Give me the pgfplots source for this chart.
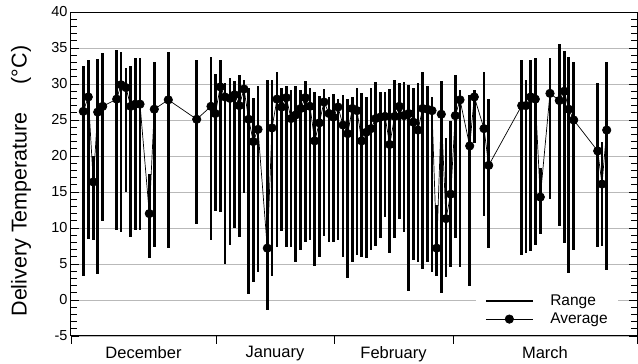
\documentclass[border=0pt]{standalone}
\usepackage{pgfplots}
\pgfplotsset{compat=1.18}
\usepackage{pgfplotstable}
\usepackage{fontspec}
\setmainfont{Liberation Sans}

\pgfplotstableread{
x lo hi avg
83.3 3.3 32.5 26.2
88.3 8.5 33.3 28.2
93.3 8.3 20.0 16.4
97.7 3.6 33.5 26.1
102.7 11.0 34.3 26.9
116.7 9.7 34.7 27.9
121.0 9.5 34.5 29.9
126.0 15.0 32.2 29.5
130.7 8.8 32.5 26.9
135.3 9.7 33.6 27.2
140.0 9.7 33.6 27.2
149.3 5.8 17.5 12.0
154.3 7.4 33.1 26.5
168.3 7.2 34.4 27.8
196.7 10.6 33.3 25.1
211.0 8.4 33.7 26.9
215.3 12.4 31.4 25.9
220.3 12.2 33.4 29.6
225.0 5.0 30.1 28.2
230.0 7.7 30.8 28.0
234.7 10.0 30.4 28.5
239.3 8.7 31.2 27.0
244.0 14.9 30.6 29.3
248.7 0.9 29.5 25.1
253.3 2.5 28.0 22.0
258.0 3.9 29.7 23.7
267.3 -1.4 30.6 7.2
272.0 3.3 30.6 23.9
277.0 7.4 31.7 27.9
281.7 9.6 29.4 26.8
286.3 7.4 29.7 28.1
291.0 7.4 29.2 25.2
295.7 5.3 29.7 25.7
300.7 6.9 29.1 26.6
305.3 8.0 30.4 28.1
310.0 8.4 29.4 26.9
314.7 4.7 28.9 22.1
319.3 6.0 28.3 24.6
324.0 8.9 29.3 27.5
329.0 8.0 28.2 25.9
333.3 8.1 28.6 25.4
338.0 8.3 27.9 26.8
343.0 6.0 28.5 24.3
347.7 3.0 27.9 23.1
352.3 5.3 28.2 26.6
357.0 6.3 29.5 26.3
361.7 6.0 28.8 22.1
366.3 5.8 28.2 23.3
371.0 6.9 29.5 23.8
375.7 7.5 30.3 25.2
380.3 8.6 28.9 25.4
385.0 11.5 28.9 25.5
389.7 6.5 29.3 21.6
394.7 8.6 30.5 25.5
399.3 11.3 30.2 26.9
404.0 9.5 30.3 25.6
408.7 1.3 29.9 25.9
413.3 5.6 29.5 24.7
418.0 5.3 30.2 23.6
422.7 4.3 31.7 26.6
427.3 5.3 29.7 26.5
432.0 3.9 28.2 26.3
436.7 3.3 13.2 7.2
441.3 1.0 30.4 25.8
446.0 3.2 22.5 11.3
450.7 4.6 24.8 14.7
455.3 8.6 31.2 25.6
460.0 4.6 29.2 27.8
469.7 2.0 28.5 21.4
474.3 21.8 29.2 28.2
484.0 11.7 31.7 23.8
488.7 7.2 27.9 18.7
521.7 6.3 33.3 27.0
526.0 6.5 30.6 27.0
530.7 6.8 33.3 28.2
535.3 7.7 33.6 27.9
540.3 9.1 18.4 14.3
550.0 14.0 33.6 28.7
559.3 10.3 35.6 27.7
564.3 7.9 34.6 29.0
568.7 3.7 33.8 26.5
573.7 7.0 33.1 25.0
597.7 7.3 30.1 20.7
602.0 7.5 22.0 16.1
606.7 4.2 33.1 23.6
}\tempdata

\begin{document}
\begin{tikzpicture}
\begin{axis}[
  at={(0,0)}, anchor=south west,
  scale only axis, width=566pt, height=324pt,
  xmin=71, xmax=637, ymin=-5, ymax=40,
  axis line style={line width=1pt},
  xtick={71,216,334,453,637},
  xticklabels={December,January,February,March},
  x tick label as interval,
  xtick pos=bottom, xtick align=outside,
  ytick={-5,0,...,40}, minor y tick num=4,
  ytick pos=both, ytick align=inside,
  major tick length=8pt, minor tick length=6pt,
  tick style={black, line width=0.8pt},
  ymajorgrids, major grid style={gray!55, line width=0.8pt},
  /pgf/number format/assume math mode=true,
  yticklabel style={font=\fontsize{14.5}{16}\selectfont},
  xticklabel style={font=\fontsize{16.5}{18}\selectfont, yshift=1pt},
  ylabel={Delivery Temperature\hspace{1.3em}(°C)},
  ylabel style={font=\fontsize{21.5}{23}\selectfont, at={(axis description cs:-0.088,0.478)}, anchor=center},
  legend style={at={(axis description cs:0.716,0.14)}, anchor=north west, draw=none, fill=white,
    font=\fontsize{15.5}{17}\selectfont, inner xsep=8pt, inner ysep=2pt, row sep=2pt, column sep=14pt},
  legend cell align=left,
]
\addplot[draw=none, mark=none,
  legend image code/.code={\draw[black, line width=2.8pt] (0pt,0pt) -- (47pt,0pt);},
  error bars/.cd, y dir=both, y explicit, error mark=none,
  error bar style={draw=black, line width=2.8pt},
  ] table[x=x, y=avg, y error plus expr=\thisrow{hi}-\thisrow{avg}, y error minus expr=\thisrow{avg}-\thisrow{lo}] {\tempdata};
\addplot[black, line width=0.7pt, mark=*, mark size=4.2pt, mark options={fill=black},
  legend image code/.code={\draw[black, line width=0.7pt] (0pt,0pt) -- (47pt,0pt); \fill[black] (23.5pt,0pt) circle (4.2pt);}]
  table[x=x, y=avg] {\tempdata};
\legend{Range, Average}
\end{axis}
\pgfresetboundingbox
\useasboundingbox (-71pt,-28pt) rectangle (567pt,336pt);
\end{tikzpicture}
\end{document}
